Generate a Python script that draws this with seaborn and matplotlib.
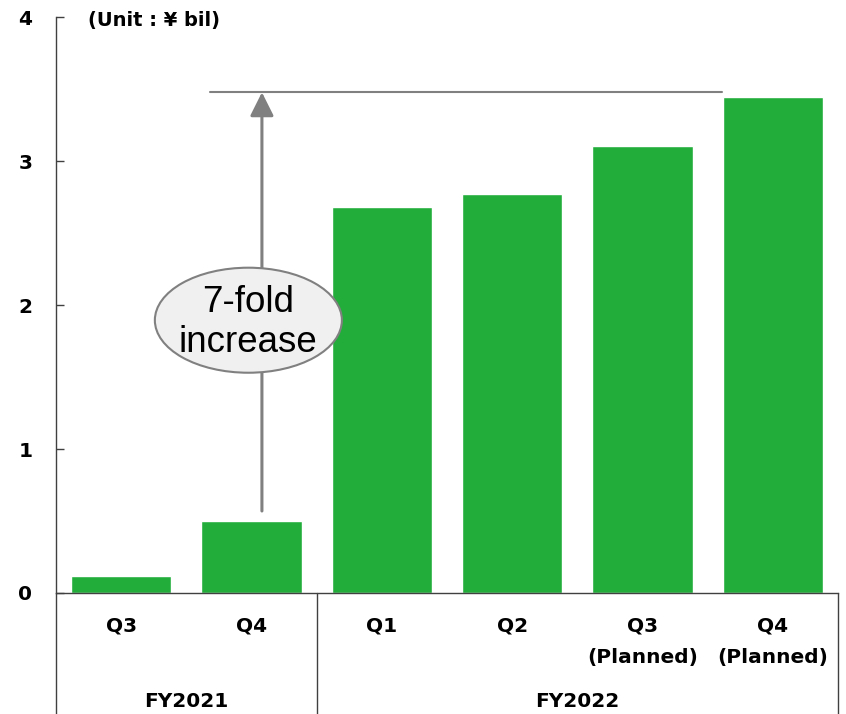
import matplotlib
matplotlib.use("Agg")
import matplotlib.pyplot as plt
import matplotlib.transforms as mtransforms
from matplotlib.patches import Ellipse
import pandas as pd
import seaborn as sns

# Quarterly figures (¥ bil)
quarters = ["Q3", "Q4", "Q1", "Q2", "Q3\n(Planned)", "Q4\n(Planned)"]
fiscal_years = ["FY2021", "FY2021", "FY2022", "FY2022", "FY2022", "FY2022"]
values = [0.12, 0.50, 2.68, 2.77, 3.11, 3.45]
y_ticks = [0, 1, 2, 3, 4]
unit_label = "(Unit : ¥ bil)"
callout_text = "7-fold\nincrease"
target_level = 3.48

sns.set_theme(style="white")
plt.rcParams["font.family"] = ["DejaVu Sans"]
plt.rcParams["text.color"] = "black"
plt.rcParams["xtick.color"] = "black"
plt.rcParams["ytick.color"] = "black"

df = pd.DataFrame({"quarter": quarters, "fy": fiscal_years, "value": values})

GREEN = "#22AD3B"
GREY = "#808080"
AXIS = "#404040"

fig = plt.figure(figsize=(8.46, 7.14), dpi=100)
ax = fig.add_axes([56 / 846, 121 / 714, 782 / 846, (593 - 17.5) / 714])

sns.barplot(data=df, x="quarter", y="value", color=GREEN, width=0.77,
            saturation=1, ax=ax, errorbar=None)

ax.set_xlim(-0.5, 5.5)
ax.set_ylim(0, 4)
ax.set_xlabel("")
ax.set_ylabel("")
ax.set_yticks(y_ticks)
ax.set_yticklabels([str(t) for t in y_ticks], fontsize=14.5, fontweight="bold")
ax.tick_params(axis="y", left=True, direction="in", length=6, width=1,
               color=AXIS, labelcolor="black", pad=17)
ax.tick_params(axis="x", length=0, pad=17, labelcolor="black")
ax.set_xticks(range(len(quarters)))
ax.set_xticklabels(quarters, fontsize=14.5, fontweight="bold", linespacing=1.85)

for side in ["top", "right"]:
    ax.spines[side].set_visible(False)
for side in ["left", "bottom"]:
    ax.spines[side].set_color(AXIS)
    ax.spines[side].set_linewidth(1)

# Category frame below the axis
trans = mtransforms.blended_transform_factory(ax.transData, ax.transAxes)
for xb in [-0.5, 1.5, 5.5]:
    ax.plot([xb, xb], [0, -0.22], color=AXIS, lw=1, transform=trans, clip_on=False)

# Fiscal year group labels
groups = df.groupby("fy", sort=False).apply(lambda g: (g.index.min() + g.index.max()) / 2)
for fy, xc in groups.items():
    ax.text(xc, -0.188, fy, transform=trans, ha="center", va="center",
            fontsize=14.5, fontweight="bold", color="black")

# Unit note
ax.text(0.041, 0.995, unit_label, transform=ax.transAxes, ha="left", va="center",
        fontsize=14, fontweight="bold", color="black")

# Target level line and growth arrow
ax.plot([0.68, 4.61], [target_level, target_level], color=GREY, lw=1.5)
ax.annotate("", xy=(1.08, target_level), xytext=(1.08, 0.57),
            arrowprops=dict(arrowstyle="-|>,head_length=1.2,head_width=0.6",
                            color=GREY, lw=2.2, shrinkA=0, shrinkB=0))

# Callout bubble
ell = Ellipse((0.976, 1.896), width=1.435, height=0.73, facecolor="#F0F0F0",
              edgecolor=GREY, lw=1.5, zorder=5)
ax.add_patch(ell)
ax.text(0.976, 1.88, callout_text, ha="center", va="center", fontsize=26.5,
        family=["Liberation Sans", "DejaVu Sans"], linespacing=1.2,
        color="black", zorder=6)

fig.savefig("out.png", dpi=100)
